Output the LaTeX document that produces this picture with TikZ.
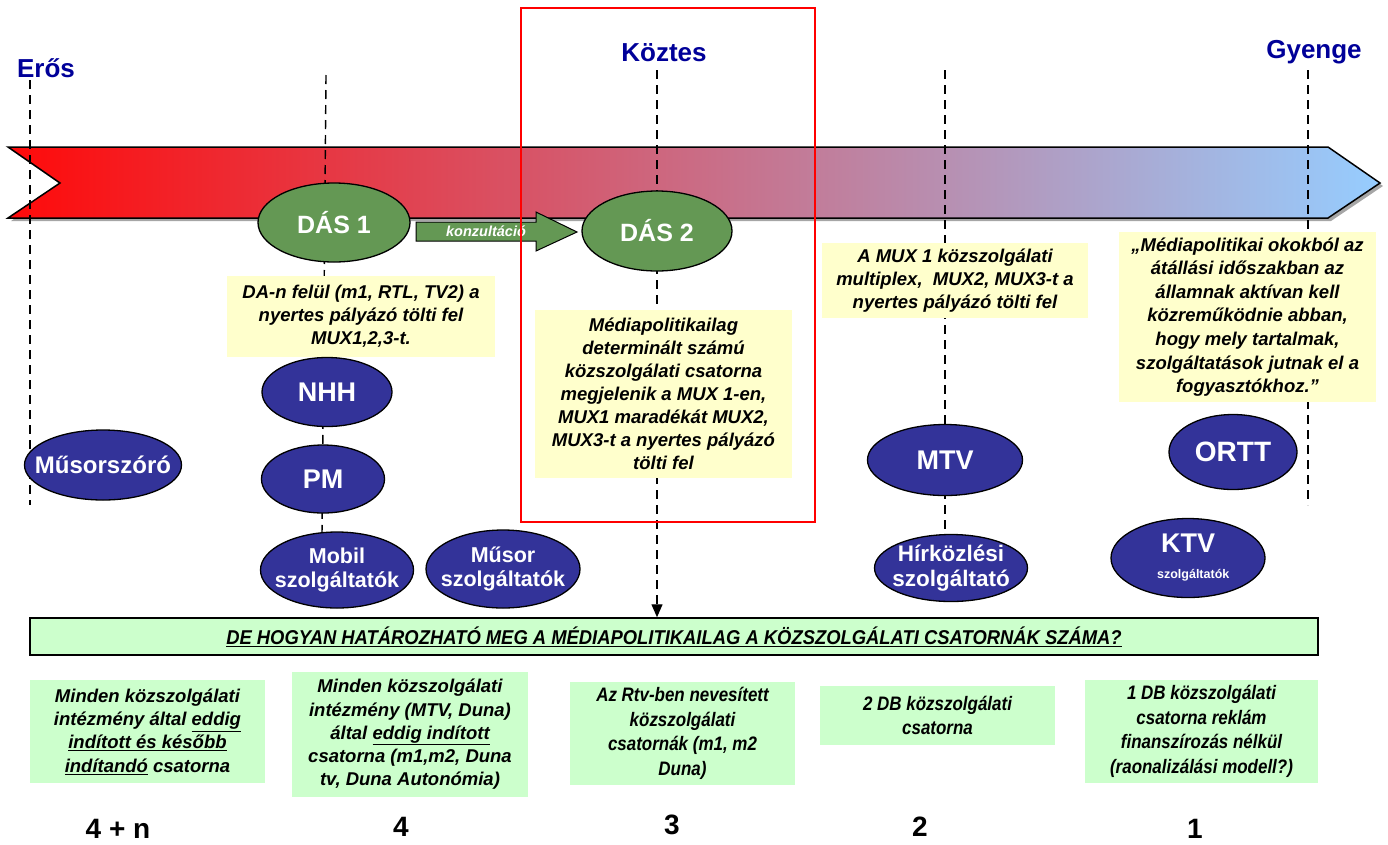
\documentclass[tikz,border=0pt]{standalone}
\usepackage{fontspec}
\setmainfont{Liberation Sans}
\newfontfamily\narrowfont[FakeStretch=0.87]{Liberation Sans}
\newfontfamily\barfont[FakeStretch=0.92]{Liberation Sans}
\usetikzlibrary{arrows.meta,shapes.geometric}

\definecolor{headblue}{RGB}{0,0,153}
\definecolor{dasgreen}{RGB}{100,152,84}
\definecolor{navy}{RGB}{51,51,153}
\definecolor{noteyellow}{RGB}{255,255,204}
\definecolor{palegreen}{RGB}{204,255,204}
\definecolor{barred}{RGB}{255,10,10}
\definecolor{barmid}{RGB}{222,132,162}
\definecolor{barblue}{RGB}{150,205,255}

\tikzset{
  guide/.style={draw=black, line width=1.4pt, dash pattern=on 9pt off 6pt},
  heading/.style={text=headblue, font=\bfseries\fontsize{26}{30}\selectfont},
  ellbase/.style={ellipse, draw=black, line width=1.3pt, inner sep=0pt},
  greenell/.style={ellbase, fill=dasgreen},
  blueell/.style={ellbase, fill=navy},
  elltext/.style={text=white, align=center, inner sep=0pt, font=\bfseries\fontsize{27}{30}\selectfont},
  smalltext/.style={text=white, align=center, inner sep=0pt, font=\bfseries\fontsize{21.5}{24}\selectfont},
  note/.style={fill=noteyellow, inner sep=0pt, align=center, font=\bfseries\itshape\fontsize{18.5}{23}\selectfont},
  gbox/.style={fill=palegreen, inner sep=0pt, align=center, font=\bfseries\itshape\fontsize{18.5}{23.3}\selectfont},
  nbox/.style={gbox, font=\narrowfont\bfseries\itshape\fontsize{19.5}{24.6}\selectfont},
  count/.style={inner sep=1pt, font=\bfseries\fontsize{28}{30}\selectfont}
}

\begin{document}
\begin{tikzpicture}[x=1pt,y=-1pt]
\useasboundingbox (0,0) rectangle (1388,844);

% scale headings
\node[heading] (eros) at (46,68) {Erős};
\node[heading] (koztes) at (664,53) {Köztes};
\node[heading] (gyenge) at (1314,52) {Gyenge};

% the graded scale arrow with its shadow
\fill[gray!70] (11,150) -- (1331,150) -- (1383,186) -- (1331,221) -- (11,221) -- (63,186) -- cycle;
\shade[left color=barred, middle color=barmid, right color=barblue]
  (8,147) -- (1328,147) -- (1380,183) -- (1328,218) -- (8,218) -- (60,183) -- cycle;
\draw[line width=1.5pt, line join=miter]
  (8,147) -- (1328,147) -- (1380,183) -- (1328,218) -- (8,218) -- (60,183) -- cycle;

% guide end points
\coordinate (g1t) at (30,80);   \coordinate (g1b) at (30,505);
\coordinate (g2t) at (326,75);  \coordinate (g2b) at (322,535);
\coordinate (g3t) at (657,70);
\coordinate (g4t) at (945,70);  \coordinate (g4b) at (945,535);
\coordinate (g5t) at (1308,70); \coordinate (g5b) at (1308,505);

% question bar (the middle guide ends on it)
\node[draw=black, line width=1.5pt, fill=palegreen, minimum width=1288pt, minimum height=37pt, inner sep=0pt,
      font=\barfont\bfseries\itshape\fontsize{20}{22}\selectfont] (question) at (674,636.5)
  {\underline{DE HOGYAN HATÁROZHATÓ MEG A MÉDIAPOLITIKAILAG A KÖZSZOLGÁLATI CSATORNÁK SZÁMA?}};

% dashed guides
\draw[guide] (g1t) -- (g1b);
\draw[guide] (g2t) -- (g2b);
\draw[guide, -{Triangle[length=13pt,width=11pt]}] (g3t) -- (g3t |- question.north);
\draw[guide] (g4t) -- (g4b);
\draw[guide] (g5t) -- (g5b);

% consultation arrow
\draw[fill=dasgreen, line width=1pt]
  (416,222) -- (536,222) -- (536,212) -- (577,232) -- (536,251) -- (536,241) -- (416,241) -- cycle;
\node[text=white, font=\bfseries\itshape\fontsize{14.5}{16}\selectfont] (konz) at (486,231.5) {konzultáció};

% decision points
\node[greenell, minimum width=152pt, minimum height=79pt,
      label={[elltext, font=\bfseries\fontsize{25}{28}\selectfont]center:DÁS 1}] (das1) at (334,222.5) {};
\node[greenell, minimum width=150pt, minimum height=80pt,
      label={[elltext, font=\bfseries\fontsize{25}{28}\selectfont]center:DÁS 2}] (das2) at (657,231) {};

% notes
\node[note, minimum width=268pt, minimum height=81pt] (nda) at (361,316.5)
  {DA-n felül (m1, RTL, TV2) a\\nyertes pályázó tölti fel\\MUX1,2,3-t.};
\node[note, minimum width=257pt, minimum height=168pt] (nmed) at (663.5,394)
  {Médiapolitikailag\\determinált számú\\közszolgálati csatorna\\megjelenik a MUX 1-en,\\MUX1 maradékát MUX2,\\MUX3-t a nyertes pályázó\\tölti fel};
\node[note, minimum width=266pt, minimum height=75pt] (nmux) at (955,280.5)
  {A MUX 1 közszolgálati\\multiplex,\ \ MUX2, MUX3-t a\\nyertes pályázó tölti fel};
\node[note, minimum width=257pt, minimum height=170pt, font=\bfseries\itshape\fontsize{18.5}{23.6}\selectfont] (nquote) at (1247.5,317)
  {„Médiapolitikai okokból az\\átállási időszakban az\\államnak aktívan kell\\közreműködnie abban,\\hogy mely tartalmak,\\szolgáltatások jutnak el a\\fogyasztókhoz.”};

% actors
\node[blueell, minimum width=157pt, minimum height=70pt,
      label={[smalltext, font=\bfseries\fontsize{24}{26}\selectfont]center:Műsorszóró}] (musorszoro) at (103,465) {};
\node[blueell, minimum width=130pt, minimum height=69pt, label={[elltext]center:NHH}] (nhh) at (327,392) {};
\node[blueell, minimum width=123pt, minimum height=68pt, label={[elltext]center:PM}] (pm) at (323,479) {};
\node[blueell, minimum width=153pt, minimum height=76pt,
      label={[smalltext]center:Mobil\\szolgáltatók}] (mobil) at (337,570) {};
\node[blueell, minimum width=154pt, minimum height=78pt,
      label={[smalltext]center:Műsor\\szolgáltatók}] (musor) at (503,569) {};
\node[blueell, minimum width=155pt, minimum height=71pt, label={[elltext]center:MTV}] (mtv) at (945,460) {};
\node[blueell, minimum width=153pt, minimum height=67pt,
      label={[smalltext, font=\bfseries\fontsize{22.5}{25}\selectfont]center:Hírközlési\\szolgáltató}] (hirk) at (951,568) {};
\node[blueell, minimum width=154pt, minimum height=79pt,
      label={[elltext]center:KTV\\[-4pt]{\fontsize{12.5}{14}\selectfont\ \ \ szolgáltatók}}] (ktv) at (1188,558) {};
\node[blueell, minimum width=128pt, minimum height=75pt,
      label={[elltext, font=\bfseries\fontsize{28}{30}\selectfont]center:ORTT}] (ortt) at (1233,452) {};

% answers
\node[gbox, minimum width=235pt, minimum height=103pt] (b1) at (147.5,731.5)
  {Minden közszolgálati\\intézmény által \underline{eddig}\\\underline{indított és később}\\\underline{indítandó} csatorna};
\node[gbox, minimum width=236pt, minimum height=125pt] (b2) at (410,734.5)
  {Minden közszolgálati\\intézmény (MTV, Duna)\\által \underline{eddig indított}\\csatorna (m1,m2, Duna\\tv, Duna Autonómia)};
\node[nbox, minimum width=225pt, minimum height=103pt] (b3) at (682.5,733.5)
  {Az Rtv-ben nevesített\\közszolgálati\\csatornák (m1, m2\\Duna)};
\node[nbox, minimum width=235pt, minimum height=59pt] (b4) at (937.5,715.5)
  {2 DB közszolgálati\\csatorna};
\node[nbox, minimum width=233pt, minimum height=103pt] (b5) at (1201.5,731.5)
  {1 DB közszolgálati\\csatorna reklám\\finanszírozás nélkül\\(raonalizálási modell?)};

% channel counts
\node[count] (c1) at (118,829) {4 + n};
\node[count] (c2) at (401,827) {4};
\node[count] (c3) at (672,825) {3};
\node[count] (c4) at (920,827) {2};
\node[count] (c5) at (1195,829) {1};

% highlighted middle scenario
\draw[red, line width=2.5pt] (521,8) rectangle (815,522);
\end{tikzpicture}
\end{document}
